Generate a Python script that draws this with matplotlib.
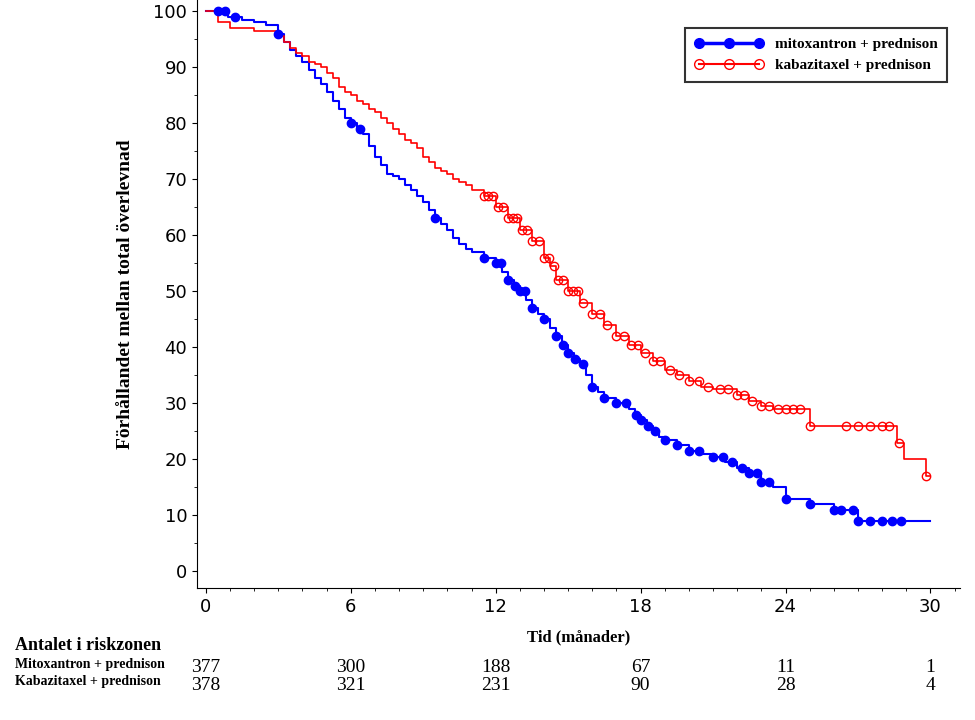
import matplotlib
matplotlib.use("Agg")
import matplotlib.pyplot as plt
import numpy as np
from matplotlib.ticker import MultipleLocator
from matplotlib.transforms import blended_transform_factory
from matplotlib.lines import Line2D

blue_pts = [(0,100),(0.9,99),(1.5,98.5),(2,98),(2.5,97.5),(3,96),(3.25,94.5),(3.5,93),(3.75,92),(4,91),(4.25,89.5),(4.5,88),(4.75,87),(5,85.5),
            (5.25,84),(5.5,82.5),(5.75,81),(6,80),(6.25,79),(6.5,78),(6.75,76),(7,74),(7.25,72.5),(7.5,71),(7.75,70.5),(8,70),(8.25,69),
            (8.5,68),(8.75,67),(9,66),(9.25,64.5),(9.5,63),(9.75,62),(10,61),(10.25,59.5),(10.5,58.5),(10.75,57.5),(11,57),(11.5,56),
            (12,55),(12.25,53.5),(12.5,52),(12.75,51),(13,50),(13.25,48.5),(13.5,47),(13.75,46),(14,45),(14.25,43.5),(14.5,42),(14.75,40.5),
            (15,39),(15.25,38),(15.5,37),(15.75,35),(16,33),(16.25,32),(16.5,31),(17,30),(17.5,29),(17.75,28),(18,27),(18.25,26),(18.5,25),
            (18.75,24),(19,23.5),(19.5,22.5),(20,21.5),(20.5,21),(21,20.5),(21.5,19.5),(22,18.5),(22.5,17.5),(23,16),(23.5,15),(24,13),
            (25,12),(26,11),(27,9),(30,9)]
red_pts = [(0,100),(0.5,98),(1,97),(2,96.5),(3,95.5),(3.25,94.5),(3.5,93.5),(3.75,92.5),(4,92),(4.25,91),(4.5,90.5),(4.75,90),(5,89),
           (5.25,88),(5.5,86.5),(5.75,85.5),(6,85),(6.25,84),(6.5,83.5),(6.75,82.5),(7,82),(7.25,81),(7.5,80),(7.75,79),(8,78),(8.25,77),
           (8.5,76.5),(8.75,75.5),(9,74),(9.25,73),(9.5,72),(9.75,71.5),(10,71),(10.25,70),(10.5,69.5),(10.75,69),(11,68),(11.5,67),
           (12,65),(12.5,63),(13,61),(13.5,59),(14,56),(14.25,54.5),(14.5,52),(15,50),(15.5,48),(16,46),(16.5,44),(17,42),(17.5,40.5),
           (18,39),(18.5,37.5),(19,36),(19.5,35),(20,34),(20.5,33),(21,32.5),(22,31.5),(22.5,30.5),(23,29.5),(23.5,29),(25,26),
           (28.6,23),(28.9,20),(29.8,17),(30,17)]
blue_c = [0.5,0.8,1.2,3,6,6.4,9.5,11.5,12,12.2,12.5,12.8,13,13.2,13.5,14,14.5,14.8,15,15.3,15.6,16,16.5,17,17.4,17.8,18,18.3,18.6,19,19.5,20,20.4,21,21.4,21.8,22.2,22.5,22.8,23,23.3,24,25,26,26.3,26.8,27,27.5,28,28.4,28.8]
red_c = [11.5,11.7,11.9,12.1,12.3,12.5,12.7,12.9,13.1,13.3,13.5,13.8,14,14.2,14.4,14.6,14.8,15,15.2,15.4,15.6,16,16.3,16.6,17,17.3,17.6,17.9,18.2,18.5,18.8,19.2,19.6,20,20.4,20.8,21.3,21.6,22,22.3,22.6,23,23.3,23.7,24,24.3,24.6,25,26.5,27,27.5,28,28.3,28.7,29.8]
ticks_x = [0,6,12,18,24,30]
risk_blue = [377,300,188,67,11,1]
risk_red = [378,321,231,90,28,4]

def surv(pts, x):
    t = np.array([p[0] for p in pts]); s = np.array([p[1] for p in pts])
    i = np.searchsorted(t, np.array(x) + 1e-9, side='right') - 1
    return s[i]

serif = 'Liberation Serif'
fig = plt.figure(figsize=(9.75, 7.2), dpi=100)
ax = fig.add_axes([0.202, 0.183, 0.783, 0.817])
ax.step([p[0] for p in blue_pts], [p[1] for p in blue_pts], where='post', color='#0000ff', lw=1.5)
ax.step([p[0] for p in red_pts], [p[1] for p in red_pts], where='post', color='#ff0000', lw=1.2)
ax.plot(blue_c, surv(blue_pts, blue_c), 'o', color='#0000ff', ms=6, ls='none')
ax.plot(red_c, surv(red_pts, red_c), 'o', mfc='none', mec='#ff0000', ms=6, ls='none')

h1 = Line2D([], [], color='#0000ff', lw=2.5, marker='o', ms=7)
h2 = Line2D([], [], color='#ff0000', lw=1.5, marker='o', ms=7, mfc='none')
leg = ax.legend([h1, h2], ['mitoxantron + prednison', 'kabazitaxel + prednison'], loc='upper right',
                bbox_to_anchor=(0.993, 0.965), numpoints=3, handlelength=4.5, fancybox=False,
                edgecolor='black', borderpad=0.6, prop={'family': serif, 'weight': 'bold', 'size': 11})
leg.get_frame().set_linewidth(1.5)

ax.set_xlim(-0.37, 31.24)
ax.set_ylim(-3, 102)
ax.xaxis.set_major_locator(MultipleLocator(6))
ax.xaxis.set_minor_locator(MultipleLocator(1))
ax.yaxis.set_major_locator(MultipleLocator(10))
ax.yaxis.set_minor_locator(MultipleLocator(5))
for s in ['top', 'right']:
    ax.spines[s].set_visible(False)
ax.tick_params(labelsize=13)
ax.set_ylabel('Förhållandet mellan total överlevnad', family=serif, weight='bold', fontsize=14, labelpad=14)
ax.set_xlabel('Tid (månader)', family=serif, weight='bold', fontsize=12, labelpad=10)

tr = blended_transform_factory(ax.transData, fig.transFigure)
fig.text(0.015, 0.097, 'Antalet i riskzonen', family=serif, weight='bold', fontsize=13)
fig.text(0.015, 0.072, 'Mitoxantron + prednison', family=serif, weight='bold', fontsize=10)
fig.text(0.015, 0.048, 'Kabazitaxel + prednison', family=serif, weight='bold', fontsize=10)
for x, b, r in zip(ticks_x, risk_blue, risk_red):
    ax.text(x, 0.067, str(b), transform=tr, ha='center', family=serif, fontsize=14, clip_on=False)
    ax.text(x, 0.042, str(r), transform=tr, ha='center', family=serif, fontsize=14, clip_on=False)

fig.savefig('out.png', dpi=100)
